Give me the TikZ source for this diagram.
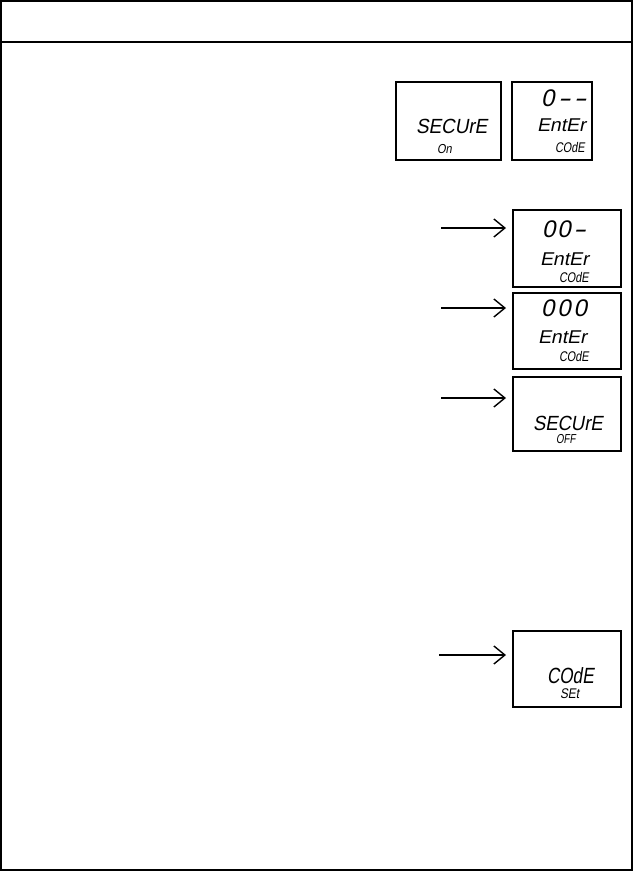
\documentclass[tikz,border=0pt]{standalone}
\usepackage{fontspec}
\usepackage{graphicx}
\usetikzlibrary{arrows.meta}
\newfontfamily\lcdfont[FakeSlant=0.2]{Liberation Sans}
\newcommand\lcdt[3]{\scalebox{#2}[1]{\fontsize{#1}{#1}\selectfont\lcdfont #3}}
\newcommand\lcddash{\scalebox{1.6}[1]{-}}
\tikzset{
  frameline/.style={line width=1.3pt},
  lcdbox/.style={draw, line width=2pt, inner sep=0pt},
  lcdtxt/.style={anchor=base west, inner sep=0pt, outer sep=0pt},
  flowarrow/.style={line width=1.4pt, -{Straight Barb[length=11pt,width=18pt]}, shorten >=6pt},
}
\begin{document}
\begin{tikzpicture}[x=1pt,y=-1pt]
\useasboundingbox (0,0) rectangle (634,871);
% outer frame and header band
\draw[frameline] (1,1) rectangle (632,870);
\coordinate (hl) at (1,42);
\coordinate (hr) at (632,42);
\draw[frameline] (hl) -- (hr);

% display boxes
\node[lcdbox, minimum width=105pt, minimum height=78pt] (B1) at (448.5,121) {};
\node[lcdbox, minimum width=80pt, minimum height=78pt] (B2) at (552,121) {};
\node[lcdbox, minimum width=108pt, minimum height=77pt] (B3) at (567,248.5) {};
\node[lcdbox, minimum width=108pt, minimum height=76pt] (B4) at (567,331) {};
\node[lcdbox, minimum width=108pt, minimum height=74pt] (B5) at (567,414) {};
\node[lcdbox, minimum width=108pt, minimum height=76pt] (B6) at (567,669) {};

% display texts
\node[lcdtxt] (t1a) at (416,133) {\lcdt{20.5}{0.92}{SECUrE}};
\node[lcdtxt] (t1b) at (437,153) {\lcdt{13}{0.85}{On}};

\node[lcdtxt] (t2a) at (541,106) {\lcdt{24}{1.0}{0\kern3pt\lcddash\kern3pt\lcddash}};
\node[lcdtxt] (t2b) at (537,131) {\lcdt{18.5}{1.05}{EntEr}};
\node[lcdtxt] (t2c) at (555,152) {\lcdt{14}{0.78}{COdE}};

\node[lcdtxt] (t3a) at (542,237) {\lcdt{24}{1.0}{0\kern2pt0\kern2pt\lcddash}};
\node[lcdtxt] (t3b) at (540,265) {\lcdt{18.5}{1.05}{EntEr}};
\node[lcdtxt] (t3c) at (559,282) {\lcdt{14}{0.78}{COdE}};

\node[lcdtxt] (t4a) at (541,316) {\lcdt{24}{1.0}{0\kern3pt0\kern3pt0}};
\node[lcdtxt] (t4b) at (538,343) {\lcdt{18.5}{1.05}{EntEr}};
\node[lcdtxt] (t4c) at (559,361) {\lcdt{14}{0.78}{COdE}};

\node[lcdtxt] (t5a) at (533,430) {\lcdt{20.5}{0.9}{SECUrE}};
\node[lcdtxt] (t5b) at (556,443) {\lcdt{13}{0.75}{OFF}};

\node[lcdtxt] (t6a) at (547,683) {\lcdt{22}{0.78}{COdE}};
\node[lcdtxt] (t6b) at (560,698) {\lcdt{14}{0.85}{SEt}};

% arrows
\coordinate (a3) at (441,228);
\coordinate (a4) at (441,308);
\coordinate (a5) at (441,398);
\coordinate (a6) at (439,655);
\draw[flowarrow] (a3) -- (a3 -| B3.west);
\draw[flowarrow] (a4) -- (a4 -| B4.west);
\draw[flowarrow] (a5) -- (a5 -| B5.west);
\draw[flowarrow] (a6) -- (a6 -| B6.west);
\end{tikzpicture}
\end{document}
